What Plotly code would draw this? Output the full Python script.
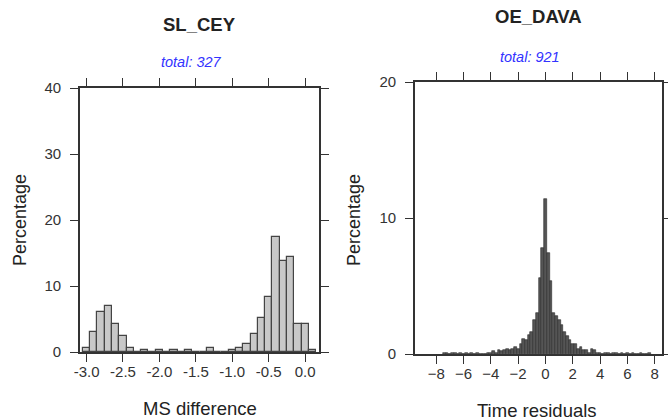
import plotly.graph_objects as go

W, H = 668, 420

# ---- SL_CEY : MS difference histogram (bin width 0.1) ----
sl_centers = [-3.0, -2.9, -2.8, -2.7, -2.6, -2.5, -2.4, -2.3, -2.2, -2.1, -2.0,
              -1.9, -1.8, -1.7, -1.6, -1.5, -1.4, -1.3, -1.2, -1.1, -1.0,
              -0.9, -0.8, -0.7, -0.6, -0.5, -0.4, -0.3, -0.2, -0.1, 0.0, 0.1]
sl_pct = [0.6, 3.0, 6.1, 7.0, 4.3, 2.4, 0.6, 0.0, 0.3, 0.0, 0.3,
          0.0, 0.3, 0.0, 0.3, 0.0, 0.0, 0.6, 0.0, 0.0, 0.3,
          0.6, 1.2, 2.8, 5.2, 8.3, 17.4, 13.8, 14.4, 4.3, 4.3, 0.3]
sl_xticks = [-3.0, -2.5, -2.0, -1.5, -1.0, -0.5, 0.0]
sl_xticklabels = ["-3.0", "-2.5", "-2.0", "-1.5", "-1.0", "-0.5", "0.0"]
sl_yticks = [0, 10, 20, 30, 40]

# ---- OE_DAVA : time residual histogram (bin width 0.2) ----
oe_centers = [-7.4, -7.2, -7.0, -6.8, -6.6, -6.4, -6.2, -6.0, -5.8, -5.6,
              -5.4, -5.2, -5.0, -4.8, -4.6, -4.4, -4.2, -4.0, -3.8, -3.6,
              -3.4, -3.2, -3.0, -2.8, -2.6, -2.4, -2.2, -2.0, -1.8, -1.6,
              -1.4, -1.2, -1.0, -0.8, -0.6, -0.4, -0.2, 0.0, 0.2, 0.4,
              0.6, 0.8, 1.0, 1.2, 1.4, 1.6, 1.8, 2.0, 2.2, 2.4,
              2.6, 2.8, 3.0, 3.2, 3.4, 3.6, 3.8, 4.0, 4.2, 4.4,
              4.6, 4.8, 5.0, 5.2, 5.4, 5.6, 5.8, 6.0, 6.2, 6.4,
              6.6, 6.8, 7.0, 7.2, 7.4, 7.6]
oe_pct = [0.1, 0.1, 0.0, 0.1, 0.1, 0.0, 0.1, 0.0, 0.1, 0.0,
          0.1, 0.0, 0.1, 0.0, 0.0, 0.0, 0.1, 0.1, 0.2, 0.1,
          0.3, 0.2, 0.3, 0.4, 0.3, 0.4, 0.5, 0.4, 0.7, 1.1,
          1.0, 1.4, 1.6, 2.5, 3.0, 5.6, 7.8, 11.4, 7.4, 5.4,
          3.0, 2.8, 2.5, 2.1, 1.6, 1.3, 1.0, 0.7, 0.7, 0.4,
          0.5, 0.3, 0.3, 0.1, 0.4, 0.3, 0.1, 0.1, 0.0, 0.1,
          0.1, 0.0, 0.1, 0.1, 0.0, 0.1, 0.0, 0.1, 0.0, 0.1,
          0.0, 0.0, 0.1, 0.0, 0.0, 0.1]
oe_xticks = [-8, -6, -4, -2, 0, 2, 4, 6, 8]
oe_yticks = [0, 10, 20]


def px(x):
    return x / W


def py(y):
    return 1 - y / H


font = "Liberation Sans, Arial, sans-serif"

fig = go.Figure()
fig.add_trace(go.Bar(x=sl_centers, y=sl_pct, width=0.1, xaxis="x", yaxis="y",
                     marker=dict(color="#c8c8c8", line=dict(color="#444444", width=1.2)),
                     showlegend=False))
fig.add_trace(go.Bar(x=oe_centers, y=oe_pct, width=0.2, xaxis="x2", yaxis="y2",
                     marker=dict(color="#555555", line=dict(color="#2a2a2a", width=0.6)),
                     showlegend=False))

axis_common = dict(showline=True, linecolor="#333333", linewidth=1.8, mirror="ticks",
                   ticks="outside", ticklen=8, tickwidth=1, tickcolor="#333333",
                   showgrid=False, zeroline=False, automargin=False,
                   tickfont=dict(family=font, size=15, color="#333333"))

fig.update_layout(
    width=W, height=H, margin=dict(l=0, r=0, t=0, b=0, autoexpand=False),
    paper_bgcolor="white", plot_bgcolor="white", bargap=0,
    xaxis=dict(domain=[px(80), px(319)], range=[-3.09, 0.19], tickvals=sl_xticks,
               ticktext=sl_xticklabels, anchor="y", ticklabelstandoff=-3, **axis_common),
    yaxis=dict(domain=[py(352), py(88)], range=[0, 40], tickvals=sl_yticks, anchor="x",
               ticklabelstandoff=6, **axis_common),
    xaxis2=dict(domain=[px(415), px(662)], range=[-9.55, 8.53], tickvals=oe_xticks,
                anchor="y2", ticklabelstandoff=-3, **axis_common),
    yaxis2=dict(domain=[py(354), py(82)], range=[0, 20], tickvals=oe_yticks, anchor="x2",
                ticklabelstandoff=6, **axis_common),
)

ann = [
    dict(text="<b>SL_CEY</b>", x=px(200), y=py(24), size=18.5, color="#222222"),
    dict(text="<i>total: 327</i>", x=px(191), y=py(62), size=14.5, color="#3333ff"),
    dict(text="MS difference", x=px(200), y=py(408), size=18.5, color="#222222"),
    dict(text="Percentage", x=px(20), y=py(220), size=18, color="#222222", angle=-90),
    dict(text="<b>OE_DAVA</b>", x=px(538), y=py(17), size=18.5, color="#222222"),
    dict(text="<i>total: 921</i>", x=px(530), y=py(57), size=14.5, color="#3333ff"),
    dict(text="Time residuals", x=px(537), y=py(410), size=18.5, color="#222222"),
    dict(text="Percentage", x=px(354), y=py(220), size=18, color="#222222", angle=-90),
]
for a in ann:
    fig.add_annotation(text=a["text"], x=a["x"], y=a["y"], xref="paper", yref="paper",
                       showarrow=False, xanchor="center", yanchor="middle",
                       textangle=a.get("angle", 0),
                       font=dict(family=font, size=a["size"], color=a["color"]))

fig.write_html("out.html", config={"displayModeBar": False},
               post_script="document.body.style.margin='0px';document.body.style.overflow='hidden';")
